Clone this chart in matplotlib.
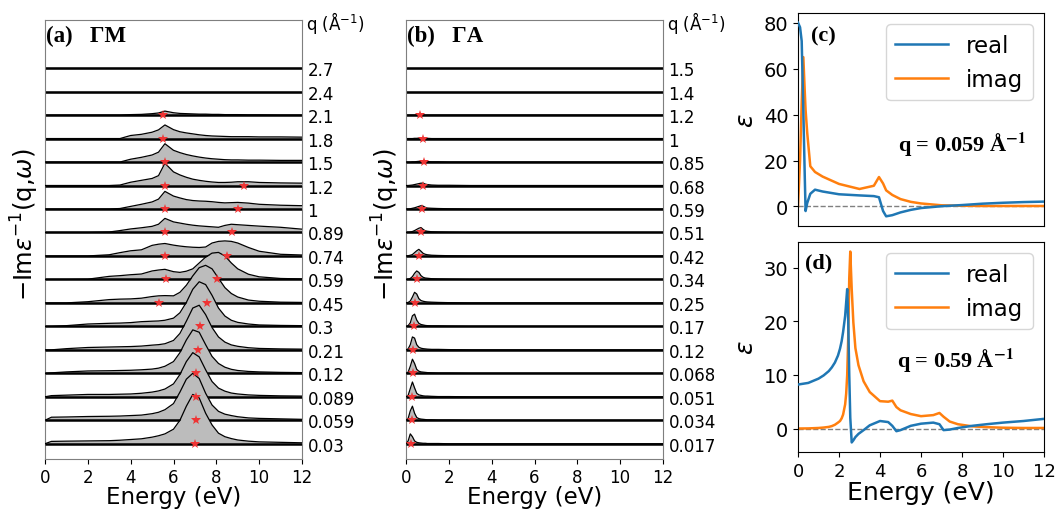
import matplotlib
matplotlib.use("Agg")
import matplotlib.pyplot as plt
from matplotlib.transforms import offset_copy

# ---------------- Panel (a): loss spectra along Gamma-M ----------------
gm_q_labels = ["0.03", "0.059", "0.089", "0.12", "0.21", "0.3", "0.45", "0.59",
               "0.74", "0.89", "1", "1.2", "1.5", "1.8", "2.1", "2.4", "2.7"]
gm_energy = [0, 0.3, 1, 2, 3, 3.5, 4, 4.5, 5, 5.3, 5.6, 6, 6.3, 6.6, 6.9, 7.2,
             7.5, 7.8, 8.1, 8.4, 8.7, 9, 9.5, 10, 11, 12]

gm_0p03 = [0, 0.10, 0.11, 0.12, 0.13, 0.15, 0.18, 0.21, 0.28, 0.34, 0.42, 0.62, 1.00,
           1.60, 2.10, 1.95, 1.30, 0.80, 0.45, 0.30, 0.22, 0.16, 0.11, 0.08, 0.06, 0.04]
gm_0p059 = [0, 0.13, 0.14, 0.16, 0.17, 0.18, 0.20, 0.22, 0.28, 0.34, 0.45, 0.71, 1.20,
            1.75, 2.00, 1.78, 1.15, 0.65, 0.38, 0.26, 0.20, 0.15, 0.10, 0.08, 0.06, 0.04]
gm_0p089 = [0, 0.05, 0.07, 0.10, 0.10, 0.11, 0.12, 0.15, 0.20, 0.25, 0.33, 0.55, 0.95,
            1.50, 1.88, 1.70, 1.15, 0.65, 0.37, 0.24, 0.16, 0.12, 0.08, 0.06, 0.04, 0.03]
gm_0p12 = [0, 0.02, 0.06, 0.10, 0.11, 0.12, 0.13, 0.15, 0.18, 0.22, 0.30, 0.50, 0.88,
           1.42, 1.85, 1.75, 1.22, 0.72, 0.42, 0.26, 0.17, 0.12, 0.08, 0.06, 0.04, 0.03]
gm_0p21 = [0, 0, 0.05, 0.10, 0.12, 0.13, 0.14, 0.16, 0.20, 0.22, 0.26, 0.40, 0.70,
           1.22, 1.78, 1.90, 1.50, 0.95, 0.55, 0.33, 0.21, 0.15, 0.09, 0.06, 0.04, 0.03]
gm_0p3 = [0, 0, 0.03, 0.10, 0.13, 0.14, 0.16, 0.20, 0.22, 0.23, 0.26, 0.35, 0.58,
          1.02, 1.58, 1.90, 1.78, 1.32, 0.78, 0.44, 0.26, 0.17, 0.10, 0.06, 0.04, 0.03]
gm_0p45 = [0, 0, 0, 0.05, 0.14, 0.16, 0.17, 0.20, 0.27, 0.30, 0.31, 0.30, 0.45,
           0.75, 1.15, 1.50, 1.60, 1.45, 1.05, 0.65, 0.40, 0.25, 0.12, 0.07, 0.03, 0.02]
gm_0p59 = [0, 0, 0, 0.01, 0.13, 0.16, 0.20, 0.23, 0.36, 0.40, 0.43, 0.33, 0.30,
           0.35, 0.45, 0.70, 0.95, 1.12, 1.15, 1.00, 0.70, 0.45, 0.22, 0.11, 0.04, 0.02]
gm_0p74 = [0, 0, 0, 0, 0.05, 0.14, 0.22, 0.26, 0.45, 0.50, 0.53, 0.46, 0.42,
           0.39, 0.37, 0.36, 0.38, 0.55, 0.62, 0.64, 0.62, 0.55, 0.36, 0.20, 0.07, 0.04]
gm_0p89 = [0, 0, 0, 0, 0.02, 0.08, 0.15, 0.20, 0.26, 0.35, 0.60, 0.45, 0.40,
           0.35, 0.31, 0.28, 0.26, 0.24, 0.22, 0.30, 0.35, 0.33, 0.30, 0.27, 0.22, 0.14]
gm_1p0 = [0, 0, 0, 0, 0, 0.02, 0.11, 0.20, 0.30, 0.42, 0.75, 0.55, 0.47,
          0.40, 0.36, 0.34, 0.33, 0.31, 0.28, 0.26, 0.27, 0.28, 0.25, 0.20, 0.16, 0.14]
gm_1p2 = [0, 0, 0, 0, 0, 0.02, 0.14, 0.22, 0.30, 0.42, 0.95, 0.58, 0.45,
          0.35, 0.27, 0.22, 0.18, 0.15, 0.13, 0.13, 0.14, 0.16, 0.16, 0.13, 0.11, 0.10]
gm_1p5 = [0, 0, 0, 0, 0, 0, 0.12, 0.20, 0.30, 0.42, 0.78, 0.50, 0.40,
          0.32, 0.26, 0.21, 0.17, 0.14, 0.12, 0.10, 0.09, 0.09, 0.08, 0.08, 0.07, 0.07]
gm_1p8 = [0, 0, 0, 0, 0, 0, 0.13, 0.18, 0.27, 0.37, 0.58, 0.38, 0.29,
          0.24, 0.20, 0.16, 0.13, 0.11, 0.10, 0.09, 0.08, 0.08, 0.08, 0.07, 0.07, 0.06]
gm_2p1 = [0, 0, 0, 0, 0, 0, 0.02, 0.03, 0.06, 0.09, 0.17, 0.10, 0.07,
          0.06, 0.05, 0.04, 0.04, 0.03, 0.03, 0.02, 0.02, 0.02, 0.01, 0.01, 0, 0]
gm_2p4 = [0] * len(gm_energy)
gm_2p7 = [0] * len(gm_energy)

gm_curves = [gm_0p03, gm_0p059, gm_0p089, gm_0p12, gm_0p21, gm_0p3, gm_0p45, gm_0p59,
             gm_0p74, gm_0p89, gm_1p0, gm_1p2, gm_1p5, gm_1p8, gm_2p1, gm_2p4, gm_2p7]

gm_peak_q = ["2.1", "1.8", "1.5", "1.2", "1.2", "1", "1", "0.89", "0.89", "0.74", "0.74",
             "0.59", "0.59", "0.45", "0.45", "0.3", "0.21", "0.12", "0.089", "0.059", "0.03"]
gm_peak_energy = [5.53, 5.5, 5.6, 5.6, 9.27, 5.6, 9.03, 5.6, 8.75, 5.58, 8.52,
                  5.64, 8.02, 5.34, 7.55, 7.24, 7.13, 7.06, 7.06, 7.03, 6.99]

# ---------------- Panel (b): loss spectra along Gamma-A ----------------
ga_q_labels = ["0.017", "0.034", "0.051", "0.068", "0.12", "0.17", "0.25", "0.34",
               "0.42", "0.51", "0.59", "0.68", "0.85", "1", "1.2", "1.4", "1.5"]
ga_energy = [0, 0.1, 0.2, 0.3, 0.4, 0.5, 0.6, 0.7, 0.8, 0.9, 1.0, 1.2, 1.5, 2, 3, 12]

ga_0p017 = [0, 0.12, 0.42, 0.30, 0.12, 0.06, 0.04, 0.03, 0.02, 0.02, 0.01, 0.01, 0.01, 0, 0, 0]
ga_0p034 = [0, 0.08, 0.40, 0.60, 0.30, 0.12, 0.07, 0.05, 0.04, 0.03, 0.02, 0.02, 0.01, 0.01, 0, 0]
ga_0p051 = [0, 0.06, 0.35, 0.63, 0.38, 0.15, 0.08, 0.06, 0.04, 0.03, 0.03, 0.02, 0.01, 0.01, 0, 0]
ga_0p068 = [0, 0.05, 0.30, 0.60, 0.42, 0.17, 0.09, 0.06, 0.05, 0.04, 0.03, 0.02, 0.01, 0.01, 0, 0]
ga_0p12 = [0, 0.04, 0.22, 0.55, 0.50, 0.22, 0.11, 0.07, 0.05, 0.04, 0.03, 0.02, 0.02, 0.01, 0, 0]
ga_0p17 = [0, 0.03, 0.15, 0.45, 0.52, 0.27, 0.13, 0.08, 0.06, 0.04, 0.03, 0.02, 0.02, 0.01, 0, 0]
ga_0p25 = [0, 0.02, 0.08, 0.25, 0.45, 0.38, 0.18, 0.10, 0.07, 0.05, 0.04, 0.03, 0.02, 0.01, 0, 0]
ga_0p34 = [0, 0.01, 0.04, 0.12, 0.26, 0.36, 0.30, 0.16, 0.09, 0.06, 0.05, 0.03, 0.02, 0.01, 0, 0]
ga_0p42 = [0, 0.01, 0.03, 0.06, 0.14, 0.22, 0.28, 0.20, 0.11, 0.07, 0.05, 0.03, 0.02, 0.01, 0, 0]
ga_0p51 = [0, 0.01, 0.02, 0.04, 0.08, 0.13, 0.18, 0.21, 0.13, 0.07, 0.05, 0.03, 0.02, 0.01, 0, 0]
ga_0p59 = [0, 0, 0.01, 0.03, 0.05, 0.08, 0.11, 0.14, 0.12, 0.07, 0.04, 0.03, 0.02, 0.01, 0, 0]
ga_0p68 = [0, 0, 0.01, 0.02, 0.04, 0.06, 0.08, 0.10, 0.10, 0.06, 0.04, 0.02, 0.01, 0.01, 0, 0]
ga_0p85 = [0, 0, 0, 0.01, 0.01, 0.02, 0.03, 0.03, 0.04, 0.03, 0.02, 0.01, 0.01, 0, 0, 0]
ga_1p0 = [0, 0, 0, 0, 0.01, 0.01, 0.02, 0.02, 0.02, 0.01, 0.01, 0, 0, 0, 0, 0]
ga_1p2 = [0, 0, 0, 0, 0, 0.01, 0.01, 0.01, 0.01, 0, 0, 0, 0, 0, 0, 0]
ga_1p4 = [0] * len(ga_energy)
ga_1p5 = [0] * len(ga_energy)

ga_curves = [ga_0p017, ga_0p034, ga_0p051, ga_0p068, ga_0p12, ga_0p17, ga_0p25, ga_0p34,
             ga_0p42, ga_0p51, ga_0p59, ga_0p68, ga_0p85, ga_1p0, ga_1p2, ga_1p4, ga_1p5]

ga_peak_q = ["1.2", "1", "0.85", "0.68", "0.59", "0.51", "0.42", "0.34", "0.25",
             "0.17", "0.12", "0.068", "0.051", "0.034", "0.017"]
ga_peak_energy = [0.67, 0.78, 0.84, 0.78, 0.74, 0.69, 0.62, 0.53, 0.44,
                  0.37, 0.35, 0.31, 0.30, 0.28, 0.23]

# ---------------- Panel (c): dielectric function, q = 0.059 ----------------
eps_c_energy = [0, 0.1, 0.18, 0.26, 0.33, 0.37, 0.45, 0.6, 0.83, 1.2, 2.0, 3.0, 3.7,
                3.95, 4.15, 4.3, 4.6, 5.0, 5.5, 6.0, 7.0, 8.0, 9.0, 10.0, 11.0, 12.0]
eps_c_real = [80, 78, 72, 42, 13, -2, 1.5, 5.5, 7.3, 6.5, 5.3, 4.8, 4.5,
              4.0, -2.0, -4.3, -3.8, -2.6, -1.5, -0.7, 0.1, 0.6, 1.2, 1.6, 1.9, 2.1]
eps_c_imag = [0, 20, 45, 65, 50, 42, 32, 17.5, 15, 13, 9.8, 7.6, 9,
              12.8, 10, 7.0, 5, 3.2, 2.0, 1.3, 0.5, 0.3, 0.2, 0.2, 0.2, 0.2]

# ---------------- Panel (d): dielectric function, q = 0.59 ----------------
eps_d_energy = [0, 0.5, 1.0, 1.25, 1.5, 1.65, 1.8, 1.95, 2.05, 2.13, 2.2, 2.3, 2.35, 2.4,
                2.45, 2.5, 2.55, 2.62, 2.7, 2.8, 2.95, 3.2, 3.5, 4.0, 4.4, 4.6, 4.8, 5.0,
                5.5, 6.0, 6.6, 6.9, 7.1, 7.4, 7.8, 8.5, 9.2, 10, 11, 12]
eps_d_real = [8.2, 8.5, 9.3, 9.9, 10.7, 11.4, 12.3, 13.6, 14.9, 16.3, 18, 21, 23.5, 26,
              20, 10, 2, -2.6, -2.2, -1.6, -1.0, -0.3, 0.6, 1.4, 1.2, 0.5, -0.5, -0.3,
              0.5, 0.9, 1.1, 0.8, -0.3, -0.2, 0.1, 0.5, 0.8, 1.1, 1.4, 1.8]
eps_d_imag = [0, 0.02, 0.1, 0.18, 0.3, 0.45, 0.7, 1.1, 1.4, 1.9, 2.6, 4.5, 6.5, 10,
              17, 28, 33, 26, 19.8, 15, 11.8, 8.8, 6.8, 5.1, 5.0, 5.2, 4.0, 3.4,
              2.7, 2.3, 2.5, 2.9, 2.2, 1.3, 0.8, 0.4, 0.25, 0.15, 0.1, 0.1]

W, H = 1056, 510
fig = plt.figure(figsize=(W / 100, H / 100), dpi=100)


def px_axes(x0, y0, x1, y1):
    return fig.add_axes([x0 / W, 1 - y1 / H, (x1 - x0) / W, (y1 - y0) / H])


serif = "Liberation Serif"
FILL = "#bcbcbc"
STAR = "#ee3434"
YLAB = r"$-$Im$\epsilon^{-1}$(q,$\omega$)"
RIDGE_TOP, RIDGE_BOTTOM = 21, 460


def ridge(ax, energy, curves, labels, peak_q, peak_e, title):
    n = len(curves)
    for i in range(n - 1, -1, -1):
        z = 2 + (n - i) * 0.1
        top = [i + v for v in curves[i]]
        ax.fill_between(energy, i, top, color=FILL, lw=0, zorder=z)
        ax.plot(energy, top, color="black", lw=0.9, zorder=z + 0.02)
        ax.plot([0, 12], [i, i], color="black", lw=1.8, zorder=z + 0.04,
                solid_capstyle="butt")
    rows = [labels.index(q) for q in peak_q]
    ax.plot(peak_e, rows, ls="none", marker="*", ms=7.5, color=STAR,
            markeredgewidth=0, zorder=20)
    ax.set_xlim(0, 12)
    ax.set_ylim(-0.65, 18.05)
    ax.set_xticks(range(0, 13, 2))
    ax.yaxis.tick_right()
    ax.set_yticks(list(range(n)))
    ax.set_yticklabels(labels)
    ax.tick_params(axis="y", length=0, pad=4, labelsize=12)
    ax.tick_params(axis="x", labelsize=12, pad=3)
    q_tr = offset_copy(ax.transAxes, fig=fig, x=4, y=0, units="dots")
    ax.text(1.0, 0.995, r"q (Å$^{-1}$)", transform=q_tr, fontsize=12,
            ha="left", va="center")
    ax.set_xlabel("Energy (eV)", fontsize=16.5)
    height = RIDGE_BOTTOM - RIDGE_TOP
    ax.xaxis.set_label_coords(0.5, -(486 - RIDGE_BOTTOM) / height)
    ax.set_ylabel(YLAB, fontsize=17.5)
    ax.yaxis.set_label_coords(-0.016, 0.535)
    for s in ax.spines.values():
        s.set_color("#7f7f7f")
    ax.text(0.004, 0.953, title, transform=ax.transAxes, fontsize=16.5,
            fontweight="bold", family=serif, va="baseline", ha="left", zorder=30)


ax_a = px_axes(45, RIDGE_TOP, 302, RIDGE_BOTTOM)
ridge(ax_a, gm_energy, gm_curves, gm_q_labels, gm_peak_q, gm_peak_energy, "(a)   ΓM")

ax_b = px_axes(406, RIDGE_TOP, 663, RIDGE_BOTTOM)
ridge(ax_b, ga_energy, ga_curves, ga_q_labels, ga_peak_q, ga_peak_energy, "(b)   ΓA")


def eps_panel(ax, energy, real, imag, tag, qtext, tag_xy, q_xy):
    ax.axhline(0, color="gray", lw=1, ls="--", zorder=1)
    ax.plot(energy, real, color="#1f77b4", lw=1.8, label="real", zorder=3)
    ax.plot(energy, imag, color="#ff7f0e", lw=1.8, label="imag", zorder=2)
    ax.set_xlim(0, 12)
    ax.set_ylabel(r"$\epsilon$", fontsize=18)
    ax.tick_params(axis="y", labelsize=14)
    ax.tick_params(axis="x", labelsize=13)
    ax.legend(loc="upper right", fontsize=16.5, handlelength=2.3)
    ax.text(tag_xy[0], tag_xy[1], tag, transform=ax.transAxes, fontsize=16,
            fontweight="bold", family=serif, va="baseline")
    ax.text(q_xy[0], q_xy[1], qtext, transform=ax.transAxes, fontsize=16,
            fontweight="bold", family=serif, math_fontfamily="stix", va="baseline")


ax_c = px_axes(798, 14, 1044, 227)
eps_panel(ax_c, eps_c_energy, eps_c_real, eps_c_imag, "(c)",
          r"q = 0.059 Å$^{\mathbf{-1}}$", (0.052, 0.87), (0.407, 0.354))
ax_c.set_yticks([0, 20, 40, 60, 80])
ax_c.tick_params(axis="x", bottom=False, labelbottom=False)

ax_d = px_axes(798, 243, 1044, 453)
eps_panel(ax_d, eps_d_energy, eps_d_real, eps_d_imag, "(d)",
          r"q = 0.59 Å$^{\mathbf{-1}}$", (0.028, 0.88), (0.401, 0.403))
ax_d.set_yticks([0, 10, 20, 30])
ax_d.set_xticks(range(0, 13, 2))
ax_d.set_xlabel("Energy (eV)", fontsize=18, labelpad=0)

fig.savefig("out.png", dpi=100)
